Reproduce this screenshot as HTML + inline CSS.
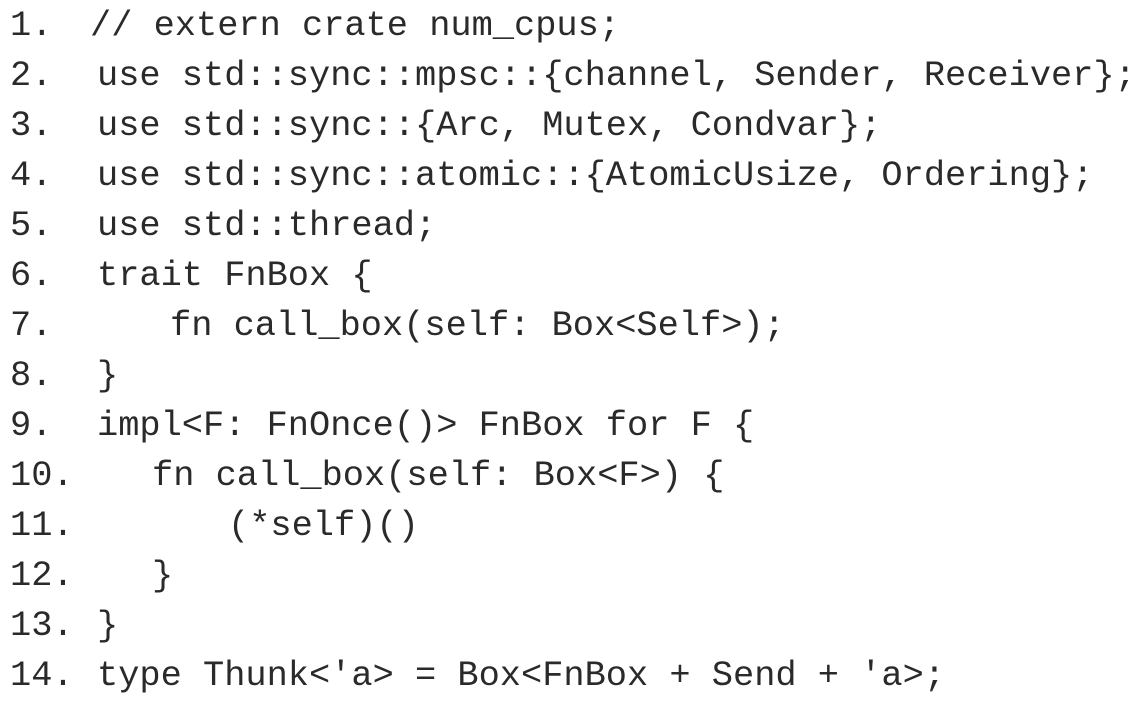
<!DOCTYPE html>
<html><head><meta charset="utf-8"><style>
html,body{margin:0;padding:0;background:#fff;}
body{width:1146px;height:701px;position:relative;overflow:hidden;font-family:"Liberation Mono",monospace;font-size:35.35px;color:#2a2a2a;}
.l{position:absolute;height:50px;line-height:50px;white-space:pre;}
</style></head><body>
<div class="l" style="left:10px;top:1px">1.</div><div class="l" style="left:90px;top:1px">// extern crate num_cpus;</div>
<div class="l" style="left:10px;top:51px">2.</div><div class="l" style="left:97px;top:51px">use std::sync::mpsc::{channel, Sender, Receiver};</div>
<div class="l" style="left:10px;top:101px">3.</div><div class="l" style="left:97px;top:101px">use std::sync::{Arc, Mutex, Condvar};</div>
<div class="l" style="left:10px;top:151px">4.</div><div class="l" style="left:97px;top:151px">use std::sync::atomic::{AtomicUsize, Ordering};</div>
<div class="l" style="left:10px;top:201px">5.</div><div class="l" style="left:97px;top:201px">use std::thread;</div>
<div class="l" style="left:10px;top:251px">6.</div><div class="l" style="left:97px;top:251px">trait FnBox {</div>
<div class="l" style="left:10px;top:301px">7.</div><div class="l" style="left:170px;top:301px">fn call_box(self: Box&lt;Self&gt;);</div>
<div class="l" style="left:10px;top:351px">8.</div><div class="l" style="left:97px;top:351px">}</div>
<div class="l" style="left:10px;top:401px">9.</div><div class="l" style="left:97px;top:401px">impl&lt;F: FnOnce()&gt; FnBox for F {</div>
<div class="l" style="left:10px;top:451px">10.</div><div class="l" style="left:152px;top:451px">fn call_box(self: Box&lt;F&gt;) {</div>
<div class="l" style="left:10px;top:501px">11.</div><div class="l" style="left:228px;top:501px">(*self)()</div>
<div class="l" style="left:10px;top:551px">12.</div><div class="l" style="left:152px;top:551px">}</div>
<div class="l" style="left:10px;top:601px">13.</div><div class="l" style="left:97px;top:601px">}</div>
<div class="l" style="left:10px;top:651px">14.</div><div class="l" style="left:97px;top:651px">type Thunk&lt;'a&gt; = Box&lt;FnBox + Send + 'a&gt;;</div>
</body></html>
